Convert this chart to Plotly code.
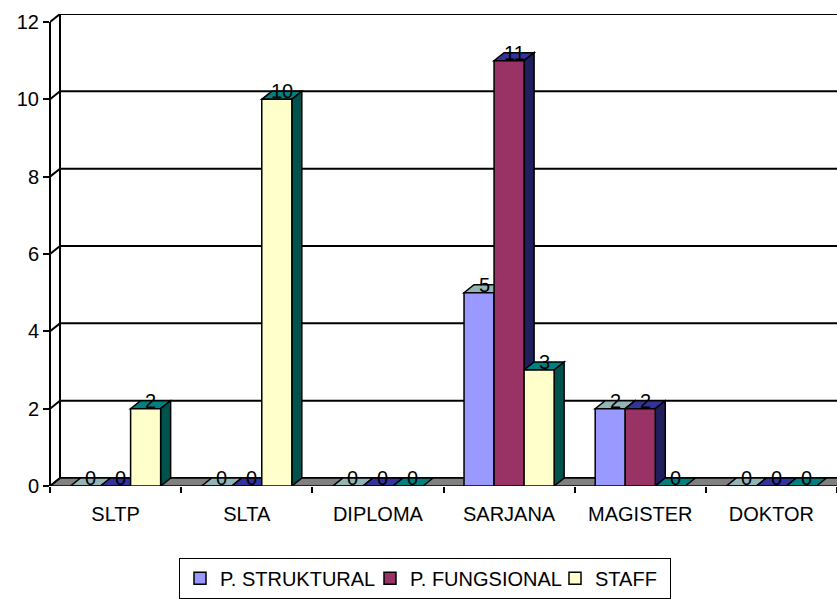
import plotly.graph_objects as go

# ---- data ----
categories = ["SLTP", "SLTA", "DIPLOMA", "SARJANA", "MAGISTER", "DOKTOR"]
p_struktural = [0, 0, 0, 5, 2, 0]
p_fungsional = [0, 0, 0, 11, 2, 0]
staff = [2, 10, 0, 3, 0, 0]
series_names = ["P. STRUKTURAL", "P. FUNGSIONAL", "STAFF"]
y_ticks = [0, 2, 4, 6, 8, 10, 12]

# ---- styles ----
front_colors = ["#9999FF", "#993366", "#FFFFCC"]
top_colors = ["#93B4B4", "#333399", "#008080"]
side_colors = ["#6B6BB3", "#1F1F5C", "#00524D"]
legend_widths = [145, 140, 70]
FONT = "Liberation Sans, Arial, sans-serif"

W_PX, H_PX = 837, 599
ML, MR, MT, MB = 50, 0, 14, 111
PW = W_PX - ML - MR
PH = H_PX - MT - MB
DEPTH_X_PX, DEPTH_Y_PX = 10, 8
FRONT_H = PH - DEPTH_Y_PX

XMIN, XMAX = -0.5, len(categories) - 0.5
YMAX = 12
px_per_x = PW / (XMAX - XMIN)
px_per_y = FRONT_H / YMAX
DX = DEPTH_X_PX / px_per_x
DY = DEPTH_Y_PX / px_per_y

BARGAP = 0.313
nser = 3
BW = (1 - BARGAP) / nser

series = [p_struktural, p_fungsional, staff]
xs = list(range(len(categories)))

fig = go.Figure()

for j in range(nser):
    fig.add_trace(go.Bar(
        x=xs, y=series[j], name=series_names[j], legendwidth=legend_widths[j],
        marker=dict(color=front_colors[j], line=dict(color="black", width=1.5)),
        hoverinfo="skip",
    ))

shapes = []
def poly(pts, fill):
    path = "M " + " L ".join(f"{x},{y}" for x, y in pts) + " Z"
    return dict(type="path", path=path, xref="x", yref="y", layer="between",
                fillcolor=fill, line=dict(color="black", width=1.5))

def seg(x0, y0, x1, y1, w=2):
    return dict(type="line", xref="x", yref="y", layer="between",
                x0=x0, y0=y0, x1=x1, y1=y1, line=dict(color="black", width=w))

# back wall gridlines + left back edge
for v in y_ticks:
    shapes.append(seg(XMIN + DX, v + DY, XMAX + 2 * DX, v + DY))
shapes.append(seg(XMIN + DX, DY, XMIN + DX, YMAX + DY))
# floor
shapes.append(poly([(XMIN, 0), (XMAX + DX, 0), (XMAX + 2 * DX, DY), (XMIN + DX, DY)], "#808080"))
# left wall diagonals
for v in y_ticks:
    shapes.append(seg(XMIN, v, XMIN + DX, v + DY))
# front value-axis line (0..max tick)
shapes.append(dict(type="line", xref="paper", yref="y", layer="above",
                   x0=0, x1=0, y0=0, y1=max(y_ticks), line=dict(color="black", width=2)))

annotations = []
for k in xs:
    for j in range(nser):
        v = series[j][k]
        x0 = k - (1 - BARGAP) / 2 + j * BW
        x1 = x0 + BW
        shapes.append(poly([(x0, v), (x1, v), (x1 + DX, v + DY), (x0 + DX, v + DY)], top_colors[j]))
        if v > 0:
            shapes.append(poly([(x1, 0), (x1, v), (x1 + DX, v + DY), (x1 + DX, DY)], side_colors[j]))
        annotations.append(dict(x=(x0 + x1) / 2 + DX / 2, y=v + DY, xref="x", yref="y",
                                text=str(v), showarrow=False, yanchor="middle",
                                font=dict(family=FONT, size=20, color="black")))

fig.update_layout(
    width=W_PX, height=H_PX,
    margin=dict(l=ML, r=MR, t=MT, b=MB),
    paper_bgcolor="white", plot_bgcolor="white",
    font=dict(family=FONT, size=20, color="black"),
    barmode="group", bargap=BARGAP, bargroupgap=0,
    shapes=shapes, annotations=annotations,
    showlegend=True,
    legend=dict(orientation="h", x=(179 - ML) / PW, xanchor="left",
                y=-(560 - (MT + PH)) / PH, yanchor="top",
                bordercolor="black", borderwidth=1, bgcolor="white",
                font=dict(family=FONT, size=20, color="black"),
                itemclick=False, tracegroupgap=0),
    xaxis=dict(range=[XMIN, XMAX],
               tickvals=xs, ticktext=categories, ticks="", showgrid=False, zeroline=False,
               showline=False, ticklabelstandoff=14,
               tickfont=dict(family=FONT, size=20, color="black"),
               minor=dict(tickvals=[i - 0.5 for i in range(len(categories) + 1)],
                          ticks="outside", ticklen=6, tickcolor="black", tickwidth=1.5,
                          showgrid=False)),
    yaxis=dict(range=[0, YMAX + DY],
               tickvals=y_ticks, ticks="outside", ticklen=6, tickcolor="black", tickwidth=1.5,
               showgrid=False, zeroline=False, showline=False,
               tickfont=dict(family=FONT, size=20, color="black")),
)

fig.write_html("out.html")
